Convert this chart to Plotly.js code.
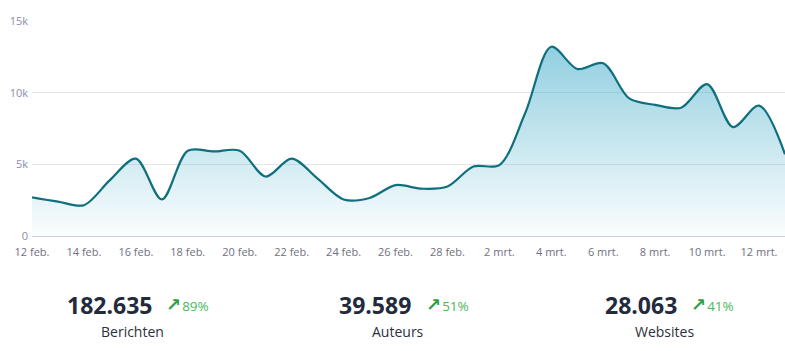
<!DOCTYPE html>
<html>
<head>
<meta charset="utf-8">
<script src="https://cdn.plot.ly/plotly-3.0.1.min.js"></script>
<style>html,body{margin:0;padding:0;background:#fff;}#chart{width:785px;height:351px;}</style>
</head>
<body>
<div id="chart"></div>
<script>
const dates = ['2023-02-12','2023-02-13','2023-02-14','2023-02-15','2023-02-16','2023-02-17','2023-02-18','2023-02-19','2023-02-20','2023-02-21','2023-02-22','2023-02-23','2023-02-24','2023-02-25','2023-02-26','2023-02-27','2023-02-28','2023-03-01','2023-03-02','2023-03-03','2023-03-04','2023-03-05','2023-03-06','2023-03-07','2023-03-08','2023-03-09','2023-03-10','2023-03-11','2023-03-12','2023-03-13'];
const values = [2700,2400,2150,3900,5400,2550,5950,5900,5950,4150,5400,4000,2550,2650,3550,3300,3450,4850,4950,8600,13200,11650,12050,9600,9150,8950,10600,7600,9100,5700];
const xTickVals = ['2023-02-12','2023-02-14','2023-02-16','2023-02-18','2023-02-20','2023-02-22','2023-02-24','2023-02-26','2023-02-28','2023-03-02','2023-03-04','2023-03-06','2023-03-08','2023-03-10','2023-03-12'];
const xTickText = ['12 feb.','14 feb.','16 feb.','18 feb.','20 feb.','22 feb.','24 feb.','26 feb.','28 feb.','2 mrt.','4 mrt.','6 mrt.','8 mrt.','10 mrt.','12 mrt.'];
const yTickVals = [0,5000,10000,15000];
const yTickText = ['0','5k','10k','15k'];
const statValues = ['182.635','39.589','28.063'];
const statChanges = ['89%','51%','41%'];
const statLabels = ['Berichten','Auteurs','Websites'];

const W = 785, H = 351, L = 32, R = 0, T = 21, B = 115;
const pw = W - L - R, ph = H - T - B;
const px = x => (x - L) / pw;
const py = y => (H - B - y) / ph;

const numLeft = [65, 337, 603];
const chgLeft = [164, 424, 689];
const labCenter = [132.5, 398, 664];

const annotations = [];
for (let i = 0; i < 3; i++) {
  annotations.push({xref:'paper', yref:'paper', x:px(numLeft[i]), y:py(305), xanchor:'left', yanchor:'middle', showarrow:false,
    text:'<b>'+statValues[i]+'</b>', font:{family:'Open Sans', size:23, color:'#222a3b'}});
  annotations.push({xref:'paper', yref:'paper', x:px(chgLeft[i]), y:py(304), xanchor:'left', yanchor:'middle', showarrow:false,
    text:'<span style="color:#2f9e44;font-family:DejaVu Sans;font-size:18px"><b>↗</b></span><span style="font-size:4px"> </span>'+statChanges[i], font:{family:'Open Sans', size:13.5, color:'#4cb85a'}});
  annotations.push({xref:'paper', yref:'paper', x:px(labCenter[i]), y:py(331), xanchor:'center', yanchor:'middle', showarrow:false,
    text:statLabels[i], font:{family:'Open Sans', size:14, color:'#2c2f3e'}});
}

const trace = {
  x: dates, y: values, type:'scatter', mode:'lines',
  line:{shape:'spline', smoothing:0.9, color:'#0f6f7d', width:2.2},
  fill:'tozeroy',
  fillgradient:{type:'vertical', start:0, stop:13200,
    colorscale:[[0,'rgba(60,170,200,0.02)'],[1,'rgba(60,170,200,0.56)']]},
  hoverinfo:'skip'
};

const layout = {
  width:W, height:H,
  margin:{l:L, r:R, t:T, b:B, pad:0},
  paper_bgcolor:'#ffffff', plot_bgcolor:'#ffffff',
  showlegend:false,
  font:{family:'Open Sans'},
  xaxis:{type:'date', range:['2023-02-12','2023-03-13'], tickmode:'array', tickvals:xTickVals, ticktext:xTickText,
    showgrid:false, zeroline:false, showline:true, linecolor:'#c9cee0', linewidth:1, ticks:'', ticklabelstandoff:6,
    tickfont:{family:'Open Sans', size:11, color:'#6f7080'}, fixedrange:true},
  yaxis:{range:[0,15000], tickmode:'array', tickvals:yTickVals, ticktext:yTickText,
    showgrid:true, gridcolor:'#e4e4ea', gridwidth:1, zeroline:false, showline:false, ticks:'', ticklabelstandoff:3,
    tickfont:{family:'Open Sans', size:11, color:'#8a8cae'}, fixedrange:true},
  annotations: annotations
};

Plotly.newPlot('chart', [trace], layout, {displayModeBar:false, staticPlot:true});
</script>
</body>
</html>
